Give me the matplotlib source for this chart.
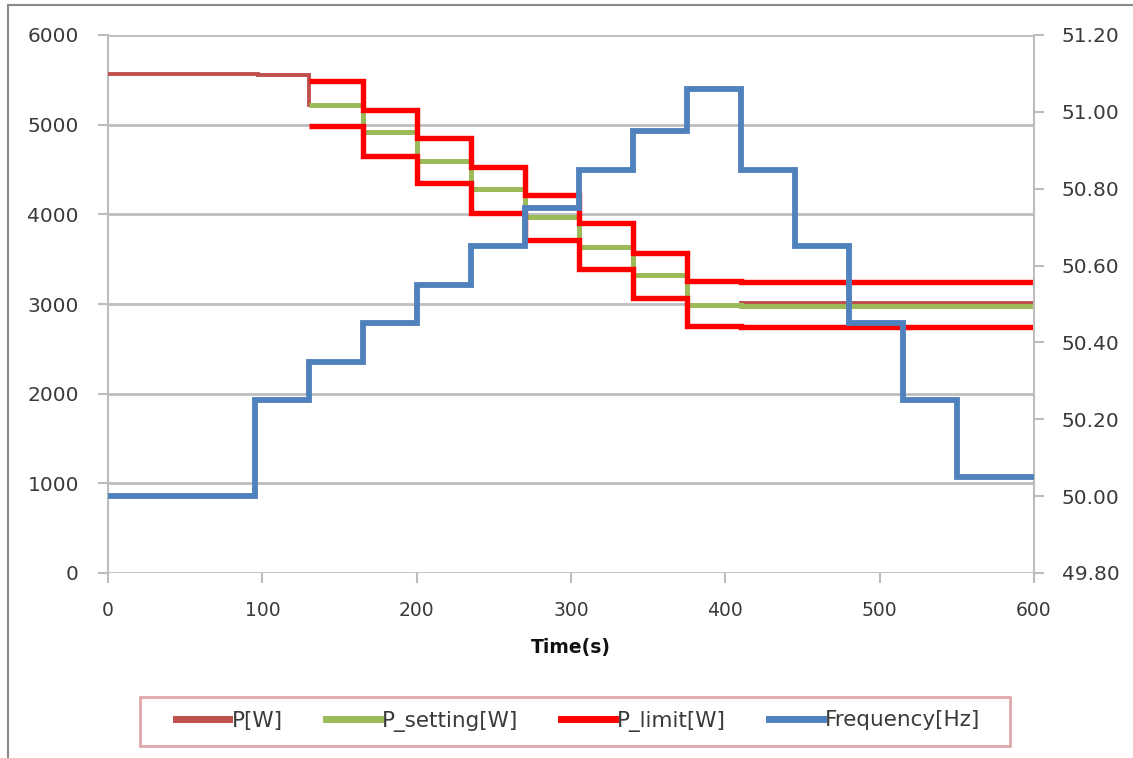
import matplotlib
matplotlib.use("Agg")
import matplotlib.pyplot as plt
from matplotlib.lines import Line2D
from matplotlib.patches import Rectangle

# ---- data ----
power_edges = [0, 97, 130, 165, 200, 235, 270, 305, 340, 375, 410, 600]
p_w = [5570, 5555, 5220, 4920, 4595, 4280, 3970, 3640, 3320, 2990, 3015]

setting_edges = [130, 165, 200, 235, 270, 305, 340, 375, 410, 600]
p_setting = [5220, 4920, 4595, 4280, 3970, 3640, 3320, 2990, 2980]
p_limit_upper = [5490, 5165, 4850, 4530, 4215, 3900, 3570, 3260, 3240]
p_limit_lower = [4980, 4655, 4350, 4020, 3710, 3395, 3065, 2760, 2740]

freq_edges = [0, 95, 130, 165, 200, 235, 270, 305, 340, 375, 410, 445, 480, 515, 550, 600]
frequency = [50.00, 50.25, 50.35, 50.45, 50.55, 50.65, 50.75, 50.85, 50.95, 51.06,
             50.85, 50.65, 50.45, 50.25, 50.05]

x_ticks = [0, 100, 200, 300, 400, 500, 600]
left_ticks = [0, 1000, 2000, 3000, 4000, 5000, 6000]
right_ticks = [49.80, 50.00, 50.20, 50.40, 50.60, 50.80, 51.00, 51.20]

labels = ["P[W]", "P_setting[W]", "P_limit[W]", "Frequency[Hz]"]
colors = ["#C0504D", "#9BBB59", "#FF0000", "#4F81BD"]

# ---- figure ----
W, H = 1133, 758
fig = plt.figure(figsize=(W / 100, H / 100), dpi=100)
ax = fig.add_axes([108 / W, 1 - 573 / H, (1034 - 108) / W, (573 - 35) / H])
ax2 = ax.twinx()

grid_c = "#BDBDBD"
txt_c = "#3A3A3A"

ax.stairs(p_w, power_edges, baseline=None, color=colors[0], lw=2.8, zorder=3)
ax.stairs(p_setting, setting_edges, baseline=None, color=colors[1], lw=3.6, zorder=4)
ax.stairs(p_limit_upper, setting_edges, baseline=None, color=colors[2], lw=3.9, zorder=5)
ax.stairs(p_limit_lower, setting_edges, baseline=None, color=colors[2], lw=3.9, zorder=5)
ax2.stairs(frequency, freq_edges, baseline=None, color=colors[3], lw=4.2, zorder=6)

ax.set_xlim(0, 600)
ax.set_ylim(0, 6000)
ax2.set_ylim(49.80, 51.20)

ax.set_xticks(x_ticks)
ax.set_yticks(left_ticks)
ax2.set_yticks(right_ticks)
ax2.set_yticklabels([f"{v:.2f}" for v in right_ticks])

ax.yaxis.grid(True, color=grid_c, lw=2)
ax.set_axisbelow(True)

for a in (ax, ax2):
    for s in a.spines.values():
        s.set_visible(False)
ax.spines["left"].set_visible(True)
ax.spines["left"].set_color(grid_c)
ax.spines["left"].set_linewidth(1.5)
ax2.spines["right"].set_visible(True)
ax2.spines["right"].set_color(grid_c)
ax2.spines["right"].set_linewidth(1.5)

ax.tick_params(axis="y", length=7, width=1.5, color=grid_c, pad=14, labelsize=14.5, labelcolor=txt_c)
ax.tick_params(axis="x", length=7, width=1.5, color=grid_c, pad=13, labelsize=13.5, labelcolor=txt_c)
ax2.tick_params(axis="y", length=7, width=1.5, color=grid_c, pad=13, labelsize=14.5, labelcolor=txt_c)

fig.text(571 / W, 1 - 648 / H, "Time(s)", ha="center", va="center",
         fontsize=13.5, fontweight="bold", color="#111111")

# legend box
fig.add_artist(Rectangle((140 / W, 1 - 746 / H), (1010 - 140) / W, (746 - 697) / H,
                         transform=fig.transFigure, facecolor="white",
                         edgecolor="#E0A8A8", lw=2, zorder=1))
handles = [Line2D([], [], color=c, lw=5) for c in colors]
leg = fig.legend(handles, labels, loc="center", ncol=4,
                 bbox_to_anchor=(578 / W, 1 - 721 / H), fontsize=15.5,
                 handlelength=2.5, handletextpad=0.1, columnspacing=2.0,
                 frameon=False)
leg.set_zorder(2)
for t in leg.get_texts():
    t.set_color(txt_c)

# outer chart frame (top and left edges)
fig.add_artist(Line2D([8 / W, 1], [1 - 5 / H, 1 - 5 / H], color="#8A8A8A", lw=1.5))
fig.add_artist(Line2D([8 / W, 8 / W], [0, 1 - 5 / H], color="#8A8A8A", lw=1.5))

fig.savefig("out.png", dpi=100)
